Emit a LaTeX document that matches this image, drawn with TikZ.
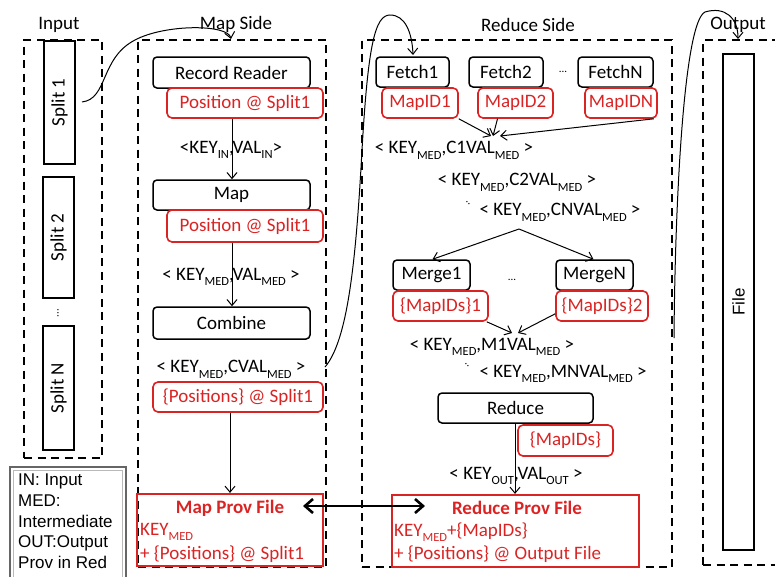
\documentclass[tikz,border=0pt]{standalone}
\usepackage{fontspec}
\setmainfont{Carlito}
\newfontfamily\legfont{Liberation Sans}
\usetikzlibrary{arrows.meta}
\definecolor{pred}{RGB}{218,36,36}
\newcommand\sbs[1]{\raisebox{-0.3em}{\fontsize{12.5}{12.5}\selectfont #1}}
\begin{document}
\begin{tikzpicture}[x=1pt,y=-1pt,
  font=\fontsize{19}{22}\selectfont,
  blk/.style={draw, line width=1.5pt, rounded corners=4pt, fill=white, inner sep=0pt},
  splitbox/.style={draw, line width=1.5pt, fill=white, inner sep=0pt},
  rbox/.style={draw=pred, text=pred, line width=1.6pt, rounded corners=5pt, fill=white, inner sep=0pt},
  prov/.style={draw=pred, line width=2.2pt, inner sep=0pt},
  side/.style={draw, dash pattern=on 8pt off 5.5pt, line width=1.9pt, inner sep=0pt},
  arr/.style={-{Straight Barb[length=6pt,width=10pt]}, line width=1pt},
  dbl/.style={{Straight Barb[length=8pt,width=14pt]}-{Straight Barb[length=8pt,width=14pt]}, line width=2.6pt},
  lbl/.style={inner sep=0pt},
  rtxt/.style={text=pred, inner sep=0pt, anchor=west},
  smalldots/.style={inner sep=0pt, font=\fontsize{11}{11}\selectfont}
]
\useasboundingbox (0,0) rectangle (775,576);
\clip (0,0) rectangle (775,576);

% ---------- containers ----------
\node[side, minimum width=78pt, minimum height=418pt] (inbox) at (63,249) {};
\node[side, minimum width=188pt, minimum height=527pt] (mapbox) at (232,303.5) {};
\node[side, minimum width=310pt, minimum height=527pt] (redbox) at (517,303.5) {};
\node[side, minimum width=100pt, minimum height=525pt] (outbox) at (753,302.5) {};

\node[lbl] (tin) at (59,25) {Input};
\node[lbl] (tmap) at (236,24) {Map Side};
\node[lbl] (tred) at (528,25) {Reduce Side};
\node[lbl] (tout) at (738,25) {Output};

% ---------- input splits ----------
\node[splitbox, minimum width=31pt, minimum height=123pt] (s1) at (59.5,102.5) {};
\node[rotate=90, lbl] at (s1) {Split 1};
\node[splitbox, minimum width=31pt, minimum height=121pt] (s2) at (58.5,237.5) {};
\node[rotate=90, lbl] at (s2) {Split 2};
\node[smalldots, rotate=90] (sdots) at (58,313) {...};
\node[splitbox, minimum width=31pt, minimum height=124pt] (sn) at (58.5,388) {};
\node[rotate=90, lbl] at (sn) {Split N};

% ---------- output file ----------
\node[splitbox, minimum width=31pt, minimum height=496pt] (file) at (738.5,302) {};
\node[rotate=90, lbl, font=\legfont\fontsize{17}{20}\selectfont] at (file) {File};

% ---------- legend ----------
\draw[draw=gray!80!black, line width=1.6pt] (10,467) rectangle (126,580);
\draw[draw=gray!55, line width=1pt] (13.5,470.5) rectangle (122.5,580);
\node[anchor=north west, align=left, inner sep=0pt, font=\legfont\fontsize{17}{20.6}\selectfont] (legend) at (18,474)
  {IN: Input\\MED:\\Intermediate\\OUT:Output\\Prov in Red};

% ---------- map side ----------
\node[blk, minimum width=157pt, minimum height=31pt] (rr) at (231.5,72.5) {Record Reader};
\node[rbox, minimum width=156pt, minimum height=30pt] (p1) at (245,103) {Position @ Split1};
\node[blk, minimum width=157pt, minimum height=30pt] (map) at (231.5,195) {Map};
\node[rbox, minimum width=156pt, minimum height=32pt] (p2) at (245,226) {Position @ Split1};
\node[blk, minimum width=157pt, minimum height=32pt] (comb) at (231.5,323) {Combine};
\node[rbox, minimum width=170pt, minimum height=30pt] (p3) at (238,397) {\{Positions\} @ Split1};

\draw[arr] (p1.south -| 232,0) -- (map.north -| 232,0);
\draw[arr] (p2.south -| 232,0) -- (comb.north -| 232,0);
\node[lbl] (kv1) at (231,150) {<KEY\sbs{IN},VAL\sbs{IN}>};
\node[lbl] (kv2) at (231,277) {< KEY\sbs{MED},VAL\sbs{MED} >};
\node[lbl] (kv3) at (231,369) {< KEY\sbs{MED},CVAL\sbs{MED} >};

\node[prov, minimum width=186pt, minimum height=72pt] (mprov) at (230,530) {};
\node[lbl, text=pred, font=\bfseries\fontsize{19}{22}\selectfont] (mpt) at (230,508) {Map Prov File};
\node[rtxt] (mpl1) at (140,532) {KEY\sbs{MED}};
\node[rtxt] (mpl2) at (140,554) {+ \{Positions\} @ Split1};
\draw[arr] (p3.south -| 230,0) -- (mprov.north -| 230,0);

% ---------- reduce side ----------
\node[blk, minimum width=73pt, minimum height=30pt] (f1) at (412.5,72) {Fetch1};
\node[rbox, minimum width=76pt, minimum height=30pt] (m1) at (420,103) {MapID1};
\node[blk, minimum width=74pt, minimum height=30pt] (f2) at (506,72) {Fetch2};
\node[rbox, minimum width=75pt, minimum height=30pt] (m2) at (515.5,103) {MapID2};
\node[smalldots] (fdots) at (563,72) {...};
\node[blk, minimum width=75pt, minimum height=30pt] (fn) at (615.5,72) {FetchN};
\node[rbox, minimum width=72pt, minimum height=30pt] (mn) at (621,103) {MapIDN};

\coordinate (cv1) at (491,136);
\draw[arr] (m1.south east) -- (cv1);
\draw[arr] ([xshift=-18pt]m2.south) -- ([xshift=2pt]cv1);
\draw[arr] ([xshift=-4pt]mn.south east) -- ([xshift=9pt]cv1);

\node[lbl] (c1) at (454,150) {< KEY\sbs{MED},C1VAL\sbs{MED} >};
\node[lbl] (c2) at (517,182) {< KEY\sbs{MED},C2VAL\sbs{MED} >};
\node[smalldots, rotate=-45] (cdots) at (468,203) {..};
\node[lbl] (cn) at (560,212) {< KEY\sbs{MED},CNVAL\sbs{MED} >};

\node[blk, minimum width=77pt, minimum height=30pt] (mg1) at (431.5,275) {Merge1};
\node[rbox, minimum width=95pt, minimum height=30pt] (ms1) at (440.5,306) {\{MapIDs\}1};
\node[smalldots] (mdots) at (512,280) {...};
\node[blk, minimum width=77pt, minimum height=30pt] (mgn) at (594.5,275) {MergeN};
\node[rbox, minimum width=92pt, minimum height=30pt] (ms2) at (602,306) {\{MapIDs\}2};

\coordinate (split) at (519,229);
\draw[arr] (split) -- ([xshift=1pt]mg1.north);
\draw[arr] (split) -- ([xshift=-1pt]mgn.north);

\coordinate (cv2) at (514,333);
\draw[arr] ([xshift=-2pt]ms1.south east) -- ([xshift=-2pt]cv2);
\draw[arr] ([yshift=8pt]ms2.south west) -- ([xshift=4pt]cv2);

\node[lbl] (r1) at (492,347) {< KEY\sbs{MED},M1VAL\sbs{MED} >};
\node[smalldots, rotate=-45] (rdots) at (467,365) {..};
\node[lbl] (rn) at (563,374) {< KEY\sbs{MED},MNVAL\sbs{MED} >};

\node[blk, minimum width=155pt, minimum height=30pt] (red) at (515.5,408) {Reduce};
\node[rbox, minimum width=95pt, minimum height=31pt] (mids) at (565.5,440.5) {\{MapIDs\}};
\node[lbl] (ko) at (516,476) {< KEY\sbs{OUT},VAL\sbs{OUT} >};

\node[prov, minimum width=247pt, minimum height=72pt] (rprov) at (515.5,531) {};
\node[lbl, text=pred, font=\bfseries\fontsize{19}{22}\selectfont] (rpt) at (517,508) {Reduce Prov File};
\node[rtxt] (rpl1) at (394,532) {KEY\sbs{MED}+\{MapIDs\}};
\node[rtxt] (rpl2) at (394,554) {+ \{Positions\} @ Output File};
\draw[arr] (red.south -| 515,0) -- (rprov.north -| 515,0);

% ---------- provenance link ----------
\coordinate (da) at (303,506);
\coordinate (db) at (425,506);
\draw[dbl] (da) -- (db);

% ---------- data flow curves ----------
\coordinate (c1s) at (82,102);
\coordinate (c1e) at (231,39);
\draw[arr] (c1s) .. controls (108,99) and (100,58) .. (135,40)
  .. controls (165,24) and (228,24) .. (c1e);
\coordinate (c2s) at (325,367);
\coordinate (c2e) at (413,55);
\draw[arr] (c2s) .. controls (348,340) and (356,260) .. (362,150)
  .. controls (368,45) and (375,15) .. (390,15)
  .. controls (405,15) and (412,32) .. (c2e);
\coordinate (c3s) at (674,338);
\coordinate (c3e) at (738,39);
\draw[arr] (c3s) .. controls (675,200) and (684,22) .. (705,12)
  .. controls (725,6) and (738,18) .. (c3e);
\end{tikzpicture}
\end{document}
